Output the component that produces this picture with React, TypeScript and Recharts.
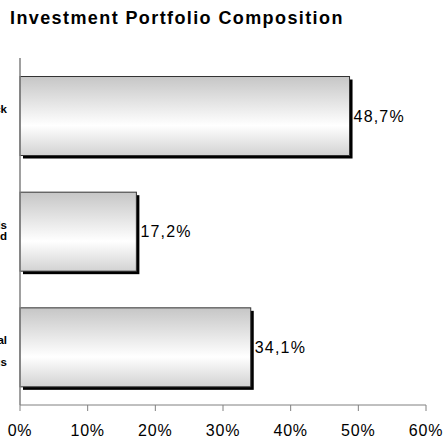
import React from 'react';
import { BarChart, Bar, XAxis, YAxis, LabelList } from 'recharts';

// labels are cut off at the left edge in the original, only their ends show
const categories = ['Government Stock\n\n', 'Corporate Bonds\nMutual Fund\n', 'Capital\n\nReal Estate Holdings'];
const shares = [48.7, 17.2, 34.1];
const xTicks = [0, 10, 20, 30, 40, 50, 60];

const chartData = categories.map((name, i) => ({ name, value: shares[i] }));

const FONT = '"Liberation Sans", Arial, sans-serif';

const ShadowBar = (props: any) => {
  const { x, y, width, height } = props;
  if (!width || !height) return null;
  return (
    <g>
      <rect x={x + 3} y={y + 3} width={width} height={height} fill="#000" />
      <rect x={x} y={y} width={width} height={height} fill="url(#barFill)" stroke="#333" strokeWidth={1} />
    </g>
  );
};

const CategoryTick = (props: any) => {
  const { x, y, payload } = props;
  const lines = String(payload.value).split('\n');
  const lh = 11;
  const start = y - ((lines.length - 1) * lh) / 2 + 8;
  return (
    <text x={x} y={start} textAnchor="end" fontFamily={FONT} fontSize={11.5} fontWeight="bold" fill="#000">
      {lines.map((ln, i) => (
        <tspan key={i} x={x} y={start + i * lh}>
          {ln}
        </tspan>
      ))}
    </text>
  );
};

const fmt = (v: any) => Number(v).toFixed(1).replace('.', ',') + '%';

const App = () => {
  return (
    <div style={{ position: 'fixed', left: 0, top: 0, width: 443, height: 438, background: '#fff' }}>
      <div
        style={{
          position: 'absolute',
          left: 10,
          top: 8,
          fontFamily: FONT,
          fontWeight: 'bold',
          fontSize: 18,
          letterSpacing: 1.4,
          color: '#000',
          whiteSpace: 'nowrap',
        }}
      >
        Investment Portfolio Composition
      </div>
      <BarChart
        width={443}
        height={438}
        data={chartData}
        layout="vertical"
        margin={{ top: 58, right: 17, bottom: 0, left: 0 }}
        barCategoryGap="16%"
      >
        <defs>
          <linearGradient id="barFill" x1="0" y1="0" x2="0" y2="1">
            <stop offset="0%" stopColor="#c6c6c6" />
            <stop offset="62%" stopColor="#ffffff" />
            <stop offset="100%" stopColor="#d2d2d2" />
          </linearGradient>
        </defs>
        <XAxis
          type="number"
          domain={[0, 60]}
          ticks={xTicks}
          tickFormatter={(v) => v + '%'}
          height={33}
          stroke="#808080"
          tickSize={6}
          tickMargin={14}
          interval={0}
          tick={{ fill: '#000', fontFamily: FONT, fontSize: 16, letterSpacing: 0.8 }}
        />
        <YAxis
          type="category"
          dataKey="name"
          width={20}
          stroke="#808080"
          strokeWidth={1.5}
          tickLine={false}
          tickMargin={7}
          tick={<CategoryTick />}
        />
        <Bar dataKey="value" shape={<ShadowBar />} isAnimationActive={false}>
          <LabelList
            dataKey="value"
            position="right"
            offset={4}
            formatter={fmt}
            style={{ fill: '#000', fontFamily: FONT, fontSize: 16, letterSpacing: 1.2 }}
          />
        </Bar>
      </BarChart>
    </div>
  );
};

export default App;
